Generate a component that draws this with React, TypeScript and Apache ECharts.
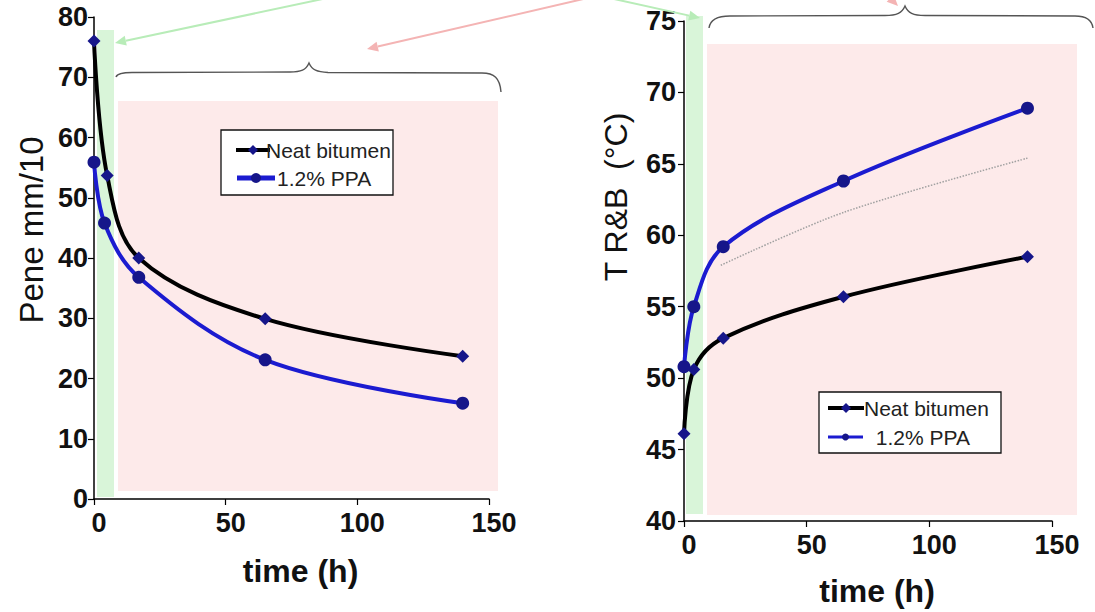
import React, { useEffect, useRef } from 'react';
import * as echarts from 'echarts';

// ---- data ----
const penHoursNeat = [0, 5, 17, 65, 140];
const penNeat = [76, 53.7, 40, 29.9, 23.7];
const penHoursPPA = [0, 4, 17, 65, 140];
const penPPA = [55.9, 45.8, 36.8, 23.1, 15.9];

const rbHours = [0, 4, 16, 65, 140];
const rbNeat = [46.1, 50.6, 52.8, 55.7, 58.5];
const rbPPA = [50.8, 55.0, 59.2, 63.8, 68.9];
const rbTrendHours = [15, 65, 140];
const rbTrend = [57.9, 61.6, 65.4];

const seriesNames = ['Neat bitumen', '1.2% PPA'];

const FONT = 'Liberation Sans, Arial, Helvetica, sans-serif';
const NAVY = '#16168a';
const BLUE = '#1b1bd0';
const SMOOTH = 0.35;

const zip = (xs: number[], ys: number[]) => xs.map((x, i) => [x, ys[i]]);

const braceLeft =
  'M116,77 C117,74 121,72.5 132,72.5 L290,72 C301,72 306,70 309,63 C312,70 317,72 328,72.5 L482,73 C494,73 500,78 501,92';
const braceRight =
  'M709,28 C710,20 716,16 730,16 L885,15.5 C897,15.5 902,13 905,6 C908,13 913,15.5 925,15.5 L1075,16 C1087,16 1092,20 1093,28';

let registered = false;
function registerShapes() {
  if (registered) return;
  registered = true;
  echarts.graphic.registerShape('braceL', echarts.graphic.extendPath(braceLeft, {}));
  echarts.graphic.registerShape('braceR', echarts.graphic.extendPath(braceRight, {}));
}

function arrow(x1: number, y1: number, x2: number, y2: number, color: string) {
  const ang = Math.atan2(y2 - y1, x2 - x1);
  const L = 11, W = 5;
  const bx = x2 - L * Math.cos(ang), by = y2 - L * Math.sin(ang);
  const px = -Math.sin(ang) * W, py = Math.cos(ang) * W;
  return [
    { type: 'line', z: 5, shape: { x1, y1, x2: bx, y2: by }, style: { stroke: color, lineWidth: 2 } },
    {
      type: 'polygon', z: 5,
      shape: { points: [[x2, y2], [bx + px, by + py], [bx - px, by - py]] },
      style: { fill: color },
    },
  ];
}

function diamond(cx: number, cy: number, r: number, color: string) {
  return {
    type: 'polygon', z: 20,
    shape: { points: [[cx, cy - r], [cx + r, cy], [cx, cy + r], [cx - r, cy]] },
    style: { fill: color },
  };
}

function legendBox(x: number, y: number, w: number, h: number, rows: any[]) {
  const els: any[] = [
    { type: 'rect', z: 15, shape: { x, y, width: w, height: h }, style: { fill: '#ffffff', stroke: '#111', lineWidth: 1.3 } },
  ];
  rows.forEach((r) => {
    els.push({ type: 'line', z: 18, shape: { x1: r.lx1, y1: r.y, x2: r.lx2, y2: r.y }, style: { stroke: r.color, lineWidth: r.lw } });
    if (r.marker === 'diamond') els.push(diamond((r.lx1 + r.lx2) / 2, r.y, 5, NAVY));
    else els.push({ type: 'circle', z: 20, shape: { cx: (r.lx1 + r.lx2) / 2, cy: r.y, r: r.mr }, style: { fill: NAVY } });
    els.push({
      type: 'text', z: 20, x: r.tx, y: r.y,
      style: { text: r.text, font: `21px ${FONT}`, fill: '#222', align: 'left', verticalAlign: 'middle' },
    });
  });
  return els;
}

const axisCommon = {
  axisLine: { show: true, onZero: false, lineStyle: { color: '#000', width: 1.5 } },
  axisTick: { show: true, length: 6, lineStyle: { color: '#000', width: 1.2 } },
  splitLine: { show: false },
};

export default function App() {
  const ref = useRef<HTMLDivElement>(null);
  useEffect(() => {
    if (!ref.current) return;
    registerShapes();
    const chart = echarts.init(ref.current, null, { renderer: 'svg' });

    const xAxisBase = (gridIndex: number) => ({
      ...axisCommon,
      type: 'value', gridIndex, min: 0, max: 150, interval: 50,
      axisLabel: { color: '#111', fontSize: 27, fontWeight: 'bold', fontFamily: FONT, margin: 10, padding: [0, 0, 0, 10] },
      name: 'time (h)', nameLocation: 'middle',
      nameTextStyle: { color: '#111', fontSize: 32, fontWeight: 'bold', fontFamily: FONT, padding: [0, 0, 0, 18] },
    });

    const option: any = {
      animation: false,
      backgroundColor: '#ffffff',
      grid: [
        { left: 94, right: 606, top: 17, bottom: 113, containLabel: false },
        { left: 684, right: 43, top: 21, bottom: 87, containLabel: false },
      ],
      xAxis: [
        { ...xAxisBase(0), nameGap: 56 },
        { ...xAxisBase(1), nameGap: 54 },
      ],
      yAxis: [
        {
          ...axisCommon, type: 'value', gridIndex: 0, min: 0, max: 80, interval: 10,
          axisLabel: { color: '#111', fontSize: 27, fontWeight: 'bold', fontFamily: FONT, margin: 6, padding: [10, 0, 0, 0] },
          name: 'Pene mm/10', nameLocation: 'middle', nameGap: 46,
          nameTextStyle: { color: '#111', fontSize: 33, fontFamily: FONT, padding: [0, 0, 0, 56] },
        },
        {
          ...axisCommon, type: 'value', gridIndex: 1, min: 40, max: 75, interval: 5,
          axisLabel: { color: '#111', fontSize: 27, fontWeight: 'bold', fontFamily: FONT, margin: 8, padding: [10, 0, 0, 0] },
          name: 'T R&B  (°C)', nameLocation: 'middle', nameGap: 52,
          nameTextStyle: { color: '#111', fontSize: 32, fontFamily: FONT, padding: [0, 0, 0, 148] },
        },
      ],
      series: [
        {
          type: 'line', name: seriesNames[0], xAxisIndex: 0, yAxisIndex: 0,
          data: zip(penHoursNeat, penNeat), smooth: SMOOTH,
          symbol: 'diamond', symbolSize: 13, z: 3,
          lineStyle: { color: '#000', width: 4 }, itemStyle: { color: NAVY },
        },
        {
          type: 'line', name: seriesNames[1], xAxisIndex: 0, yAxisIndex: 0,
          data: zip(penHoursPPA, penPPA), smooth: SMOOTH,
          symbol: 'circle', symbolSize: 13, z: 4,
          lineStyle: { color: BLUE, width: 4 }, itemStyle: { color: NAVY },
        },
        {
          type: 'line', name: 'trend', xAxisIndex: 1, yAxisIndex: 1,
          data: zip(rbTrendHours, rbTrend), smooth: 0.3, showSymbol: false, symbol: 'none', z: 2,
          lineStyle: { color: '#a0a0a0', width: 1.5, type: 'dotted' },
        },
        {
          type: 'line', name: seriesNames[0], xAxisIndex: 1, yAxisIndex: 1,
          data: zip(rbHours, rbNeat), smooth: SMOOTH,
          symbol: 'diamond', symbolSize: 13, z: 3,
          lineStyle: { color: '#000', width: 4 }, itemStyle: { color: NAVY },
        },
        {
          type: 'line', name: seriesNames[1], xAxisIndex: 1, yAxisIndex: 1,
          data: zip(rbHours, rbPPA), smooth: SMOOTH,
          symbol: 'circle', symbolSize: 13, z: 4,
          lineStyle: { color: BLUE, width: 4 }, itemStyle: { color: NAVY },
        },
      ],
      graphic: [
        // shaded zones
        { type: 'rect', z: -10, shape: { x: 97, y: 30, width: 17, height: 467 }, style: { fill: '#d9f5d9' } },
        { type: 'rect', z: -10, shape: { x: 118, y: 101, width: 380, height: 390 }, style: { fill: '#fdeaea' } },
        { type: 'rect', z: -10, shape: { x: 686, y: 16, width: 17, height: 498 }, style: { fill: '#d9f5d9' } },
        { type: 'rect', z: -10, shape: { x: 707, y: 44, width: 370, height: 471 }, style: { fill: '#fdeaea' } },
        // braces
        { type: 'braceL', z: 5, x: 0, y: 0, style: { fill: 'none', stroke: '#555', lineWidth: 1.4 } },
        { type: 'braceR', z: 5, x: 0, y: 0, style: { fill: 'none', stroke: '#555', lineWidth: 1.4 } },
        // arrows
        ...arrow(332, -3, 115, 43, '#b8ecb8'),
        ...arrow(592, -3, 367, 49, '#f4b4b4'),
        ...arrow(605, -3, 700, 18, '#b8ecb8'),
        ...arrow(880, -12, 898, 6, '#f4b4b4'),
        // legends
        ...legendBox(221, 130, 172, 65, [
          { y: 150, lx1: 236, lx2: 270, color: '#000', lw: 4, marker: 'diamond', tx: 266, text: seriesNames[0] },
          { y: 178, lx1: 237, lx2: 275, color: BLUE, lw: 5, marker: 'circle', mr: 5, tx: 277, text: seriesNames[1] },
        ]),
        ...legendBox(819, 392, 182, 61, [
          { y: 408, lx1: 828, lx2: 864, color: '#000', lw: 4, marker: 'diamond', tx: 864, text: seriesNames[0] },
          { y: 437, lx1: 828, lx2: 863, color: BLUE, lw: 3, marker: 'circle', mr: 3.5, tx: 870, text: ' ' + seriesNames[1] },
        ]),
      ],
    };
    chart.setOption(option);
    return () => chart.dispose();
  }, []);
  return (
    <div
      ref={ref}
      style={{ position: 'absolute', left: 0, top: 0, width: 1095, height: 612, background: '#fff' }}
    />
  );
}
